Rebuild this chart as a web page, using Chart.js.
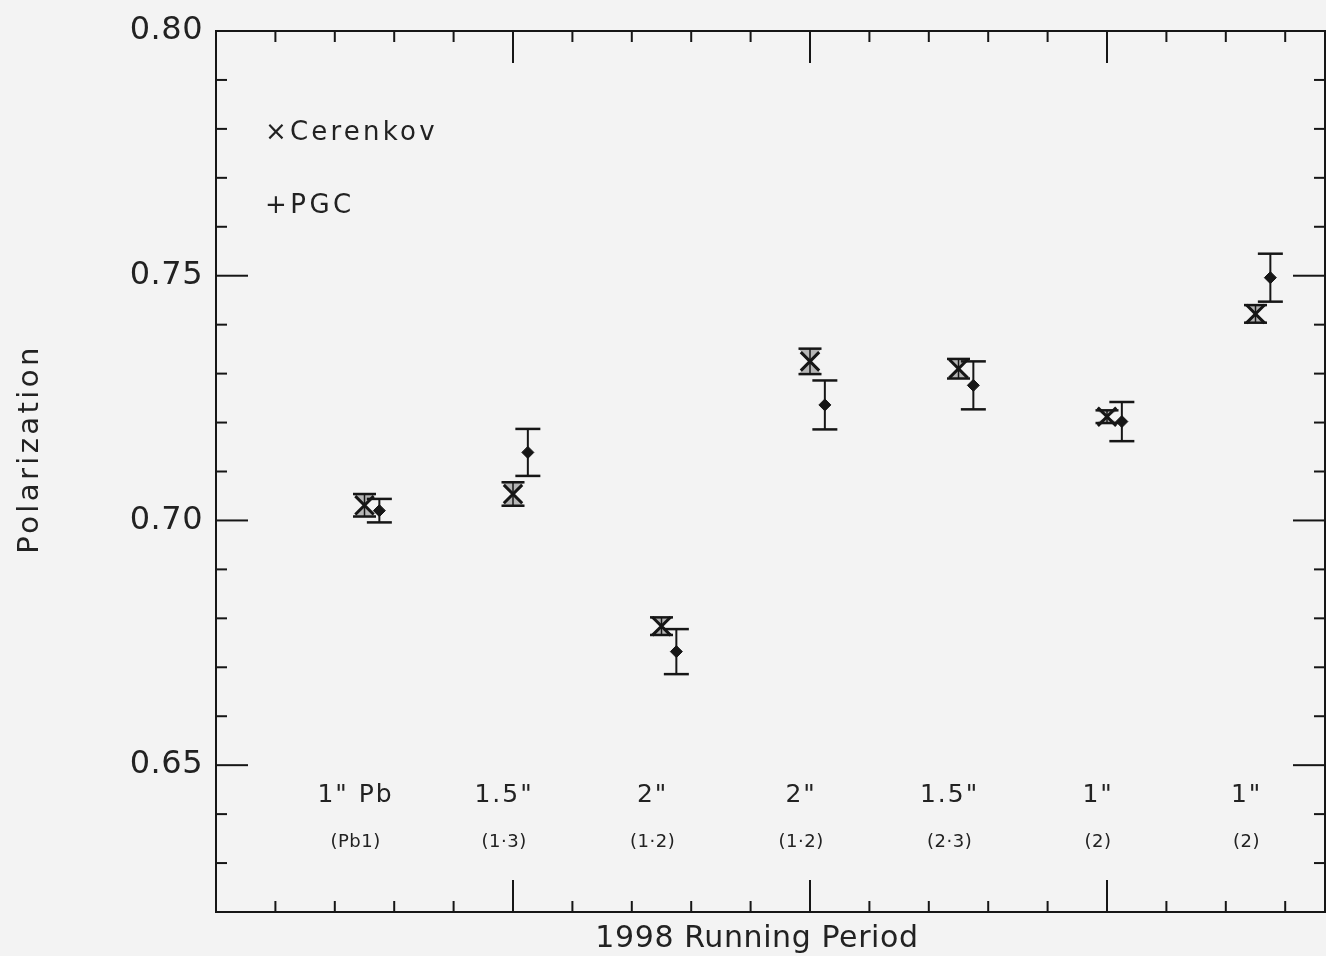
<!DOCTYPE html>
<html>
<head>
<meta charset="utf-8">
<title>Polarization vs 1998 Running Period</title>
<script src="https://cdn.jsdelivr.net/npm/chart.js@4"></script>
<style>
  html, body { margin: 0; padding: 0; background: #f3f3f3; overflow: hidden; }
  #chart { display: block; }
</style>
</head>
<body>
<canvas id="chart" width="1326" height="956"></canvas>
<script>
// Running periods (target thickness / target id)
const periods = ['1" Pb', '1.5"', '2"', '2"', '1.5"', '1"', '1"'];
const targets = ['(Pb1)', '(1·3)', '(1·2)', '(1·2)', '(2·3)', '(2)', '(2)'];

// Cerenkov measurements
const cerenkovX = [2.5, 5, 7.5, 10, 12.5, 15, 17.5];
const cerenkovPol = [0.7031, 0.7054, 0.6784, 0.7325, 0.7310, 0.7212, 0.7422];
const cerenkovErr = [0.0023, 0.0024, 0.0018, 0.0026, 0.0020, 0.0013, 0.0018];

// PGC measurements
const pgcX = [2.75, 5.25, 7.75, 10.25, 12.75, 15.25, 17.75];
const pgcPol = [0.7020, 0.7139, 0.6732, 0.7236, 0.7276, 0.7202, 0.7496];
const pgcErr = [0.0024, 0.0048, 0.0046, 0.0050, 0.0049, 0.0040, 0.0049];

// Axis
const yTickValues = [0.65, 0.70, 0.75, 0.80];
const yTickLabels = ['0.65', '0.70', '0.75', '0.80'];

const INK = '#161616';
const FONT = '"DejaVu Sans", sans-serif';

function line(ctx, x1, y1, x2, y2) {
  ctx.beginPath();
  ctx.moveTo(x1, y1);
  ctx.lineTo(x2, y2);
  ctx.stroke();
}

function text(ctx, str, x, y, size, align, spacing) {
  ctx.font = `${size}px ${FONT}`;
  ctx.textAlign = align;
  ctx.textBaseline = 'middle';
  ctx.letterSpacing = (spacing || 0) + 'px';
  ctx.fillText(str, x, y);
  ctx.letterSpacing = '0px';
}

const plotterPlugin = {
  id: 'plotter',
  beforeDraw(chart) {
    const ctx = chart.ctx;
    ctx.save();
    ctx.fillStyle = '#f3f3f3';
    ctx.fillRect(0, 0, chart.width, chart.height);
    ctx.restore();
  },
  beforeDatasetsDraw(chart) {
    const { ctx, chartArea: a, scales: { x, y } } = chart;
    ctx.save();
    ctx.strokeStyle = INK;
    ctx.lineWidth = 2;
    ctx.strokeRect(a.left, a.top, a.right - a.left, a.bottom - a.top);

    // inward ticks on all four sides
    for (let i = 62; i <= 80; i++) {
      const py = y.getPixelForValue(i / 100);
      const len = i % 5 === 0 ? 32 : 11;
      line(ctx, a.left, py, a.left + len, py);
      line(ctx, a.right, py, a.right - len, py);
    }
    for (let i = 1; i <= 18; i++) {
      const px = x.getPixelForValue(i);
      const len = i % 5 === 0 ? 32 : 11;
      line(ctx, px, a.bottom, px, a.bottom - len);
      line(ctx, px, a.top, px, a.top + len);
    }

    // Cerenkov error bars (hourglass)
    cerenkovX.forEach((v, i) => {
      const px = x.getPixelForValue(v);
      const py = y.getPixelForValue(cerenkovPol[i]);
      const top = y.getPixelForValue(cerenkovPol[i] + cerenkovErr[i]);
      const bot = y.getPixelForValue(cerenkovPol[i] - cerenkovErr[i]);
      const w = 11.5;
      ctx.fillStyle = 'rgba(0,0,0,0.25)';
      ctx.beginPath();
      ctx.moveTo(px - w, top); ctx.lineTo(px + w, top); ctx.lineTo(px, py);
      ctx.moveTo(px - w, bot); ctx.lineTo(px + w, bot); ctx.lineTo(px, py);
      ctx.fill();
      ctx.lineWidth = 2.5;
      line(ctx, px - w, top, px + w, top);
      line(ctx, px - w, bot, px + w, bot);
      ctx.lineWidth = 1.5;
      line(ctx, px, top, px, bot);
    });

    // PGC error bars
    pgcX.forEach((v, i) => {
      const px = x.getPixelForValue(v);
      const top = y.getPixelForValue(pgcPol[i] + pgcErr[i]);
      const bot = y.getPixelForValue(pgcPol[i] - pgcErr[i]);
      const w = 12.5;
      ctx.lineWidth = 2.5;
      line(ctx, px - w, top, px + w, top);
      line(ctx, px - w, bot, px + w, bot);
      ctx.lineWidth = 2;
      line(ctx, px, top, px, bot);
    });
    ctx.restore();
  },
  afterDraw(chart) {
    const { ctx, chartArea: a, scales: { x, y } } = chart;
    ctx.save();
    ctx.fillStyle = '#222';

    yTickValues.forEach((v, i) => {
      text(ctx, yTickLabels[i], a.left - 13, y.getPixelForValue(v), 32, 'right', 0.5);
    });

    // axis titles
    text(ctx, '1998 Running Period', 757, 939, 30, 'center', 0.6);
    ctx.save();
    ctx.translate(30, 449);
    ctx.rotate(-Math.PI / 2);
    text(ctx, 'Polarization', 0, 0, 29, 'center', 3.4);
    ctx.restore();

    // period labels inside the frame
    periods.forEach((p, i) => {
      const px = x.getPixelForValue(cerenkovX[i] - 0.15);
      text(ctx, p, px, a.bottom - 117, 25, 'center', 2);
      text(ctx, targets[i], px, a.bottom - 70, 18, 'center', 0.5);
    });

    // legend
    text(ctx, '×Cerenkov', 265, 133, 26, 'left', 3.2);
    text(ctx, '+PGC', 265, 206, 26, 'left', 3.5);
    ctx.restore();
  }
};

new Chart(document.getElementById('chart'), {
  type: 'scatter',
  data: {
    datasets: [
      {
        label: 'Cerenkov',
        data: cerenkovX.map((v, i) => ({ x: v, y: cerenkovPol[i] })),
        pointStyle: 'crossRot',
        pointRadius: 13,
        borderColor: INK,
        borderWidth: 3,
      },
      {
        label: 'PGC',
        data: pgcX.map((v, i) => ({ x: v, y: pgcPol[i] })),
        pointStyle: 'rectRot',
        pointRadius: 6,
        backgroundColor: INK,
        borderColor: INK,
        borderWidth: 1,
      },
    ],
  },
  options: {
    responsive: false,
    devicePixelRatio: 1,
    animation: false,
    events: [],
    layout: { autoPadding: false, padding: { left: 216, top: 31, right: 1, bottom: 44 } },
    plugins: { legend: { display: false }, tooltip: { enabled: false } },
    scales: {
      x: { type: 'linear', min: 0, max: 18.67, display: false },
      y: { type: 'linear', min: 0.62, max: 0.80, display: false },
    },
  },
  plugins: [plotterPlugin],
});
</script>
</body>
</html>
